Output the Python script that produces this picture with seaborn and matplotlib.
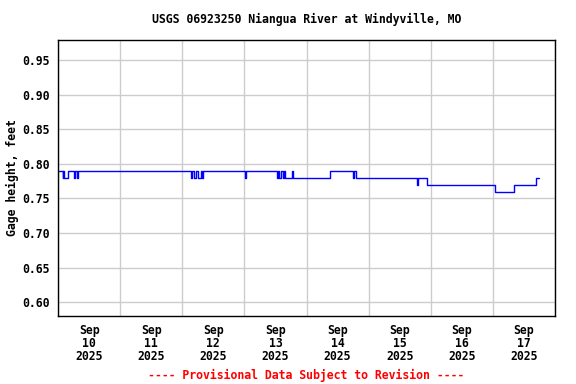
import matplotlib
matplotlib.use("Agg")
import matplotlib.pyplot as plt
import matplotlib.dates as mdates
import matplotlib.ticker as mticker
import seaborn as sns
import pandas as pd

# Change points of the gage height record (hours after 2025-09-10 00:00, feet)
change_hours = [0.0, 1.75, 2.0, 2.5, 3.75, 6.25, 6.5, 7.5, 7.75,
                51.5, 51.75, 52.5, 53.25, 54.0, 55.25, 55.75, 56.0,
                72.25, 72.5,
                84.75, 85.0, 85.5, 86.25, 86.75, 87.5, 87.75, 90.5, 90.75,
                105.25, 114.0, 114.25, 115.0,
                138.75, 139.0, 142.5,
                168.75, 176.25, 184.75, 186.0]
gage_ft = [0.79, 0.78, 0.79, 0.78, 0.79, 0.78, 0.79, 0.78, 0.79,
           0.78, 0.79, 0.78, 0.79, 0.78, 0.79, 0.78, 0.79,
           0.78, 0.79,
           0.78, 0.79, 0.78, 0.79, 0.78, 0.79, 0.78, 0.79, 0.78,
           0.79, 0.78, 0.79, 0.78,
           0.77, 0.78, 0.77,
           0.76, 0.77, 0.78, 0.78]

start = pd.Timestamp("2025-09-10 00:00")
end = pd.Timestamp("2025-09-18 00:00")
y_ticks = [0.60, 0.65, 0.70, 0.75, 0.80, 0.85, 0.90, 0.95]

df = pd.DataFrame({
    "time": start + pd.to_timedelta(change_hours, unit="h"),
    "gage": gage_ft,
})

sns.set_style("white")
plt.rcParams["font.family"] = ["DejaVu Sans Mono"]
plt.rcParams["font.weight"] = "bold"
plt.rcParams["text.color"] = "black"
plt.rcParams["axes.labelcolor"] = "black"
plt.rcParams["xtick.color"] = "black"
plt.rcParams["ytick.color"] = "black"
plt.rcParams["axes.labelweight"] = "bold"
plt.rcParams["axes.titleweight"] = "bold"

fig = plt.figure(figsize=(5.76, 3.84), dpi=100)
ax = fig.add_axes([58 / 576, 1 - 316 / 384, (555 - 58) / 576, (316 - 39.5) / 384])

sns.lineplot(data=df, x="time", y="gage", ax=ax, color="#0000ff",
             linewidth=1.0, drawstyle="steps-post", estimator=None)

ax.set_xlim(start, end)
ax.set_ylim(0.58, 0.98)
ax.set_yticks(y_ticks)
ax.yaxis.set_major_formatter(mticker.FormatStrFormatter("%.2f"))

ax.xaxis.set_major_locator(mdates.DayLocator())
ax.xaxis.set_major_formatter(mticker.NullFormatter())
ax.xaxis.set_minor_locator(mdates.HourLocator(byhour=[12]))
ax.xaxis.set_minor_formatter(mdates.DateFormatter("%b\n%d\n%Y"))

ax.grid(True, which="major", color="#cccccc", linewidth=1.0)
ax.tick_params(which="both", length=0, labelsize=8.3, colors="black")
ax.tick_params(axis="x", which="minor", pad=6)
ax.tick_params(axis="y", pad=6)
for lab in ax.get_xticklabels(minor=True) + ax.get_yticklabels():
    lab.set_fontweight("bold")
    lab.set_linespacing(1.0)

for s in ax.spines.values():
    s.set_color("black")
    s.set_linewidth(1.0)

ax.set_xlabel("")
ax.set_ylabel("Gage height, feet", fontsize=8.3, fontweight="bold",
              color="black", labelpad=2)
ax.set_title("USGS 06923250 Niangua River at Windyville, MO",
             fontsize=8.3, fontweight="bold", color="black", pad=12)

fig.text(306 / 576, 1 - 375 / 384, "---- Provisional Data Subject to Revision ----",
         color="red", fontsize=8.3, fontweight="bold", ha="center", va="center")

fig.savefig("out.png", dpi=100)
